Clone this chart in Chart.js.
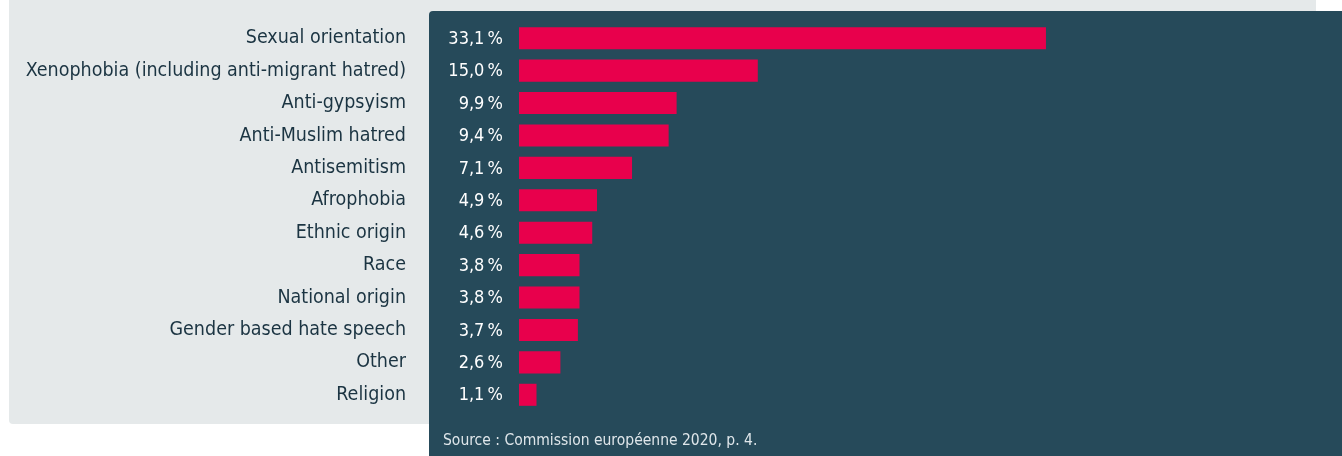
<!DOCTYPE html>
<html>
<head>
<meta charset="utf-8">
<script src="https://cdn.jsdelivr.net/npm/chart.js@4"></script>
<style>
  html, body { margin: 0; padding: 0; background: #ffffff; }
  #wrap { position: relative; width: 1342px; height: 456px; overflow: hidden; }
  .grey { position: absolute; left: 9px; top: 0; width: 1307px; height: 424px; background: #e5e9ea; border-radius: 0 0 4px 4px; }
  .dark { position: absolute; left: 429px; top: 11px; width: 913px; height: 445px; background: #264a5a; border-radius: 4px 0 0 0; }
  .source { position: absolute; left: 443px; top: 431px; color: #dfe6ea; font: 15.5px "DejaVu Sans Condensed", sans-serif; }
  canvas { position: absolute; left: 0; top: 0; }
</style>
</head>
<body>
<div id="wrap">
  <div class="grey"></div>
  <div class="dark"></div>
  <canvas id="hateChart" width="1342" height="456"></canvas>
  <div class="source">Source : Commission européenne 2020, p. 4.</div>
</div>
<script>
const categories = [
    'Sexual orientation',
    'Xenophobia (including anti-migrant hatred)',
    'Anti-gypsyism',
    'Anti-Muslim hatred',
    'Antisemitism',
    'Afrophobia',
    'Ethnic origin',
    'Race',
    'National origin',
    'Gender based hate speech',
    'Other',
    'Religion'
];
const shares = [33.1, 15.0, 9.9, 9.4, 7.1, 4.9, 4.6, 3.8, 3.8, 3.7, 2.6, 1.1];

const FONT = '"DejaVu Sans Condensed", "Liberation Sans Narrow", sans-serif';

// percent labels sit in the dark panel, left of the bars
const valueLabels = {
    id: 'valueLabels',
    afterDatasetsDraw(chart) {
        const ctx = chart.ctx;
        const meta = chart.getDatasetMeta(0);
        ctx.save();
        ctx.fillStyle = '#ffffff';
        ctx.font = '18px ' + FONT;
        ctx.textAlign = 'right';
        ctx.textBaseline = 'middle';
        meta.data.forEach((bar, i) => {
            ctx.fillText(shares[i].toFixed(1).replace('.', ',') + '\u2009%', 503, bar.y + 1);
        });
        ctx.restore();
    }
};

new Chart(document.getElementById('hateChart'), {
    type: 'bar',
    data: {
        labels: categories,
        datasets: [{
            data: shares,
            backgroundColor: '#e8004c',
            borderWidth: 0,
            barPercentage: 0.68,
            categoryPercentage: 1
        }]
    },
    options: {
        indexAxis: 'y',
        responsive: false,
        animation: false,
        layout: { padding: { left: 0, right: 27, top: 22, bottom: 45 } },
        plugins: { legend: { display: false }, tooltip: { enabled: false } },
        scales: {
            x: { display: false, min: 0, max: 50 },
            y: {
                grid: { display: false },
                border: { display: false },
                afterFit(scale) {
                    scale.width = 519;
                    scale.paddingTop = 0;
                    scale.paddingBottom = 0;
                },
                ticks: {
                    padding: 105,
                    color: '#1b3442',
                    font: { family: FONT, size: 19.5 }
                }
            }
        }
    },
    plugins: [valueLabels]
});
</script>
</body>
</html>
